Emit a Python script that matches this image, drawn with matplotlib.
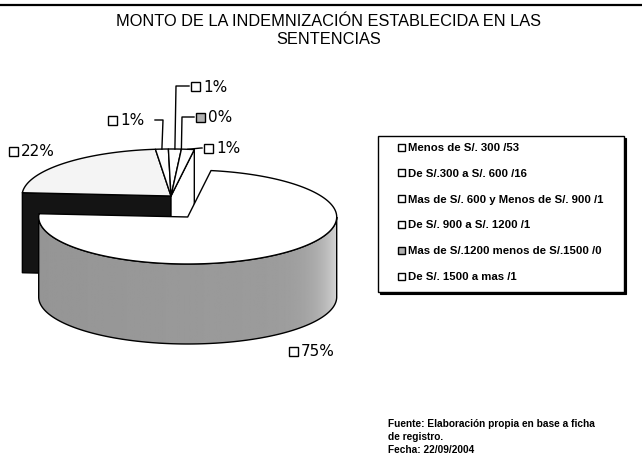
"""3D pie chart: monto de la indemnizacion establecida en las sentencias."""

import numpy as np
import matplotlib
matplotlib.use("Agg")
import matplotlib.pyplot as plt
from matplotlib.patches import Polygon, Rectangle

# ---- data -------------------------------------------------------------
categories = [
    "Menos de S/. 300",
    "De S/.300 a S/. 600",
    "Mas de S/. 600 y Menos de S/. 900",
    "De S/. 900 a S/. 1200",
    "Mas de S/.1200 menos de S/.1500",
    "De S/. 1500 a mas",
]
counts = [53, 16, 1, 1, 0, 1]
pct_labels = ["75%", "22%", "1%", "1%", "0%", "1%"]

title_lines = ["MONTO DE LA INDEMNIZACIÓN ESTABLECIDA EN LAS", "SENTENCIAS"]
source_lines = [
    "Fuente: Elaboración propia en base a ficha",
    "de registro.",
    "Fecha: 22/09/2004",
]

# ---- style / layout (pixel coordinates, y downwards) -----------------
W, H = 642, 456
CX, CY = 171, 197          # centre of the pie top
RX, RY = 149, 47           # ellipse radii of the top face
DEPTH = 80
START = 81                 # first slice starts here, clockwise
explode = [0.18, 0, 0, 0, 0, 0]
top_colors = ["white", "#f4f4f4", "white", "white", "#b8b8b8", "white"]
side_colors = ["#9c9c9c", "#141414", "white", "white", "#b8b8b8", "white"]
key_colors = ["white", "white", "white", "white", "#b0b0b0", "white"]

# label anchor (left edge of the key square) and leader line elbow
label_pos = [(289, 352), (9, 152), (108, 121), (191, 87), (196, 118), (204, 149)]
leader_elbow = [None, None, (163, 121), (176, 87), (182, 118), (201, 149)]

EDGE = dict(edgecolor="black", linewidth=1.0)

fig = plt.figure(figsize=(W / 100, H / 100), dpi=100)
ax = fig.add_axes([0, 0, 1, 1])
ax.set_xlim(0, W)
ax.set_ylim(H, 0)
ax.axis("off")

# top rule of the page
ax.plot([0, W], [6, 6], color="black", lw=1.6, solid_capstyle="butt")

ax.text(329, 22, title_lines[0], ha="center", va="center",
        fontsize=11.8, family="Liberation Sans")
ax.text(329, 40, title_lines[1], ha="center", va="center",
        fontsize=11.8, family="Liberation Sans")

# ---- slice geometry ---------------------------------------------------
total = sum(counts)
spans = []
end = START
for c in counts:
    sweep = c * 360.0 / total
    spans.append((end - sweep, end))
    end -= sweep

centres = []
for (t1, t2), e in zip(spans, explode):
    mid = np.radians((t1 + t2) / 2)
    centres.append((CX + e * RX * np.cos(mid), CY - e * RX * np.sin(mid)))


def rim(cx, cy, t):
    t = np.radians(t)
    return cx + RX * np.cos(t), cy - RY * np.sin(t)


def arc(cx, cy, t1, t2):
    t = np.linspace(t1, t2, max(int(abs(t2 - t1)) * 2, 2))
    x, y = rim(cx, cy, t)
    return np.column_stack([x, y])


def neighbour(i, step):
    j = (i + step) % len(counts)
    while counts[j] == 0:
        j = (j + step) % len(counts)
    return j


def draw_faces(i, z):
    cx, cy = centres[i]
    t1, t2 = spans[i]
    # radial faces: t1 borders the next slice (clockwise), t2 the previous one
    for t, j, visible in ((t1, neighbour(i, 1), np.cos(np.radians(t1)) > 0),
                          (t2, neighbour(i, -1), np.cos(np.radians(t2)) < 0)):
        if not visible or (explode[i] == 0 and explode[j] == 0):
            continue
        x, y = rim(cx, cy, t)
        quad = [(cx, cy), (x, y), (x, y + DEPTH), (cx, cy + DEPTH)]
        ax.add_patch(Polygon(quad, closed=True, facecolor=side_colors[i],
                             joinstyle="round", zorder=z, **EDGE))


def draw_side(i, z):
    cx, cy = centres[i]
    t1, t2 = spans[i]
    for k in range(-2, 2):
        a, b = max(t1, 180 + 360 * k), min(t2, 360 + 360 * k)
        if b <= a:
            continue
        top = arc(cx, cy, a, b)
        outline = np.vstack([top, top[::-1] + [0, DEPTH]])
        poly = Polygon(outline, closed=True, facecolor=side_colors[i],
                       edgecolor="none", zorder=z)
        ax.add_patch(poly)
        if i == 0:
            # shading of the grey wall, lighter towards the right end
            xs = np.linspace(-1, 1, 300)
            shade = 0.6 + 0.015 * xs + 0.22 * np.clip(xs, 0, 1) ** 8
            img = ax.imshow(shade[None, :], cmap="gray", vmin=0, vmax=1,
                            extent=(cx - RX, cx + RX, cy + RY + DEPTH, cy - RY),
                            aspect="auto", zorder=z + 0.1)
            img.set_clip_path(poly)
        ax.add_patch(Polygon(outline, closed=True, facecolor="none",
                             zorder=z + 0.2, **EDGE))


def draw_top(i, z):
    cx, cy = centres[i]
    t1, t2 = spans[i]
    pts = np.vstack([[cx, cy], arc(cx, cy, t1, t2)])
    ax.add_patch(Polygon(pts, closed=True, facecolor=top_colors[i],
                         joinstyle="round", zorder=z, **EDGE))


order = [i for i in range(len(counts)) if counts[i] > 0]
flat = [i for i in order if explode[i] == 0]
popped = [i for i in order if explode[i] > 0]
for base, group in ((1, flat), (4, popped)):
    for i in group:
        draw_faces(i, base)
    for i in group:
        draw_side(i, base + 0.5)
    for i in group:
        draw_top(i, base + 1)


# ---- data labels ------------------------------------------------------
def key_square(x, y, size, color, z=8):
    ax.add_patch(Rectangle((x, y - size / 2), size, size, facecolor=color,
                           edgecolor="black", linewidth=1.0, zorder=z))


for i, lab in enumerate(pct_labels):
    lx, ly = label_pos[i]
    key_square(lx, ly, 9, key_colors[i])
    ax.text(lx + 12, ly, lab, ha="left", va="center", fontsize=11,
            family="DejaVu Sans", zorder=8)
    if leader_elbow[i] is not None:
        t1, t2 = spans[i]
        px, py = rim(*centres[i], (t1 + t2) / 2)
        ex, ey = leader_elbow[i]
        # leader ends just before the key square, or just after the text
        tail = lx + 47 if ex > lx + 20 else lx - 2
        ax.plot([px, ex, tail], [py, ey, ey], color="black", lw=1.0, zorder=7)

# ---- legend -----------------------------------------------------------
ax.add_patch(Rectangle((380, 139), 246, 156, facecolor="black",
                       edgecolor="black", linewidth=0.8, zorder=8))
ax.add_patch(Rectangle((378, 137), 246, 156, facecolor="white",
                       edgecolor="black", linewidth=1.0, zorder=9))
for k, (cat, c) in enumerate(zip(categories, counts)):
    y = 148 + k * 25.8
    key_square(398, y, 7, key_colors[k], z=10)
    ax.text(408, y, f"{cat} /{c}", ha="left", va="center", fontsize=8.2,
            fontweight="bold", family="Liberation Sans", zorder=10)

# ---- source note ------------------------------------------------------
for k, line in enumerate(source_lines):
    ax.text(388, 424 + k * 13, line, ha="left", va="center", fontsize=7.3,
            fontweight="bold", family="Liberation Sans")

fig.savefig("out.png", dpi=100)
